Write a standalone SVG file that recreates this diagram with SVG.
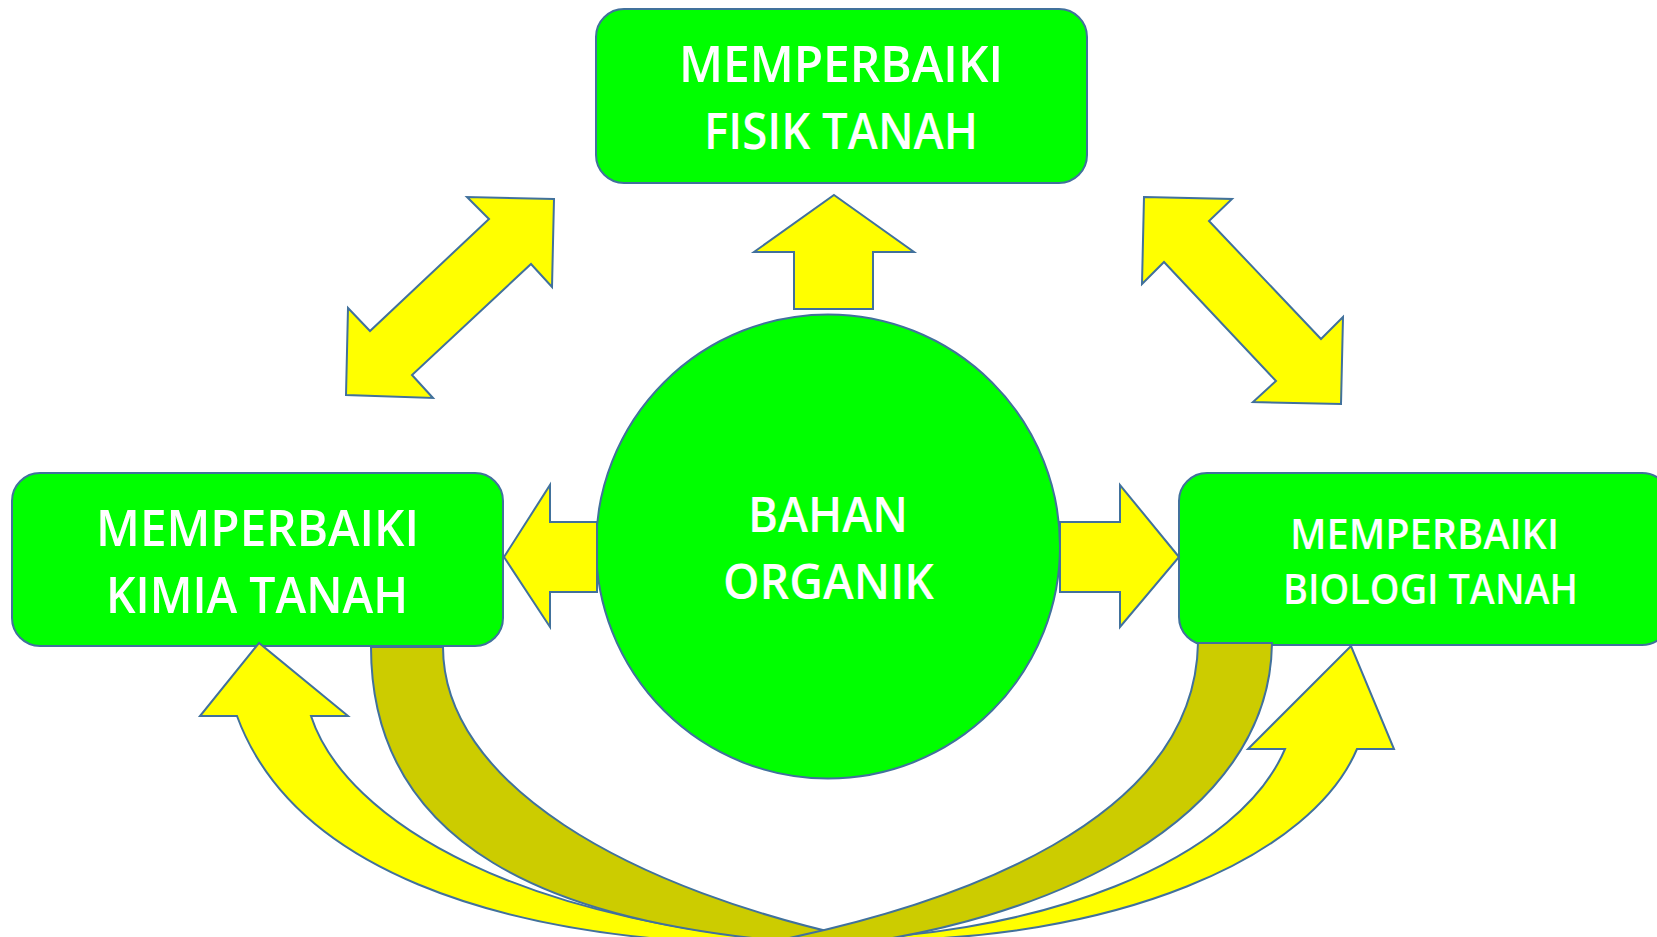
<svg xmlns="http://www.w3.org/2000/svg" width="1657" height="937" viewBox="0 0 1657 937">
<style>
.box{fill:#00FF00;stroke:#41719C;stroke-width:2}
.arr{fill:#FFFF00;stroke:#41719C;stroke-width:2;stroke-linejoin:miter}
.olive{fill:#CCCC00;stroke:#41719C;stroke-width:2}
.t{fill:#FFFFFF;font-family:"Open Sans","Liberation Sans",sans-serif;font-weight:600}
</style>
<rect width="1657" height="937" fill="#FFFFFF"/>
<g id="node-fisik">
<rect class="box" x="596" y="9" width="491" height="174" rx="28" ry="28"/>
<text class="t" x="679" y="82" font-size="50" textLength="324" lengthAdjust="spacingAndGlyphs">MEMPERBAIKI</text>
<text class="t" x="704" y="149" font-size="50" textLength="274" lengthAdjust="spacingAndGlyphs">FISIK TANAH</text>
</g>
<g id="node-kimia">
<rect class="box" x="12" y="473" width="491" height="173" rx="28" ry="28"/>
<text class="t" x="96" y="546" font-size="50" textLength="323" lengthAdjust="spacingAndGlyphs">MEMPERBAIKI</text>
<text class="t" x="106" y="613" font-size="50" textLength="302" lengthAdjust="spacingAndGlyphs">KIMIA TANAH</text>
</g>
<g id="node-biologi">
<rect class="box" x="1179" y="473" width="491" height="172" rx="28" ry="28"/>
<text class="t" x="1290" y="549" font-size="42" textLength="269" lengthAdjust="spacingAndGlyphs">MEMPERBAIKI</text>
<text class="t" x="1283" y="604" font-size="42" textLength="295" lengthAdjust="spacingAndGlyphs">BIOLOGI TANAH</text>
</g>
<g id="node-bahan">
<circle class="box" cx="828" cy="546.5" r="232"/>
<text class="t" x="748" y="532" font-size="49" textLength="160" lengthAdjust="spacingAndGlyphs">BAHAN</text>
<text class="t" x="723" y="599" font-size="49" textLength="211" lengthAdjust="spacingAndGlyphs">ORGANIK</text>
</g>
<g id="connectors">
<polygon class="arr" points="834,195 914,252 873,252 873,309 794,309 794,252 754,252"/>
<polygon class="arr" points="504,557 550,485 550,522 597,522 597,592 550,592 550,627"/>
<polygon class="arr" points="1179,557 1120,485 1120,522 1060,522 1060,592 1120,592 1120,627"/>
<polygon class="arr" points="554,199 467,197 489,219 370,331 348,308 346,395 433,398 412,375 531,264 552,287"/>
<polygon class="arr" points="1144,197 1232,199 1209,221 1321,339 1343,317 1341,404 1253,402 1276,381 1164,262 1142,284"/>
<path class="arr" d="M311,716 L348,716 L259,643 L200,716 L237,716 C290,860 480,945 800,945 L850,945 C520,930 345,820 311,716 Z"/>
<path class="arr" d="M1285,749 L1248,749 L1351,646 L1394,749 L1357,749 A487,240 0 0 1 880,940 L808,940 A487,240 0 0 0 1285,749 Z"/>
<path class="olive" d="M371,647 L443,647 C443,780 620,890 880,943 L840,945 C540,930 371,840 371,647 Z"/>
<path class="olive" d="M1198,643 L1272,643 C1270,820 1050,925 820,948 L760,944 C960,905 1195,820 1198,643 Z"/>
</g>
</svg>
